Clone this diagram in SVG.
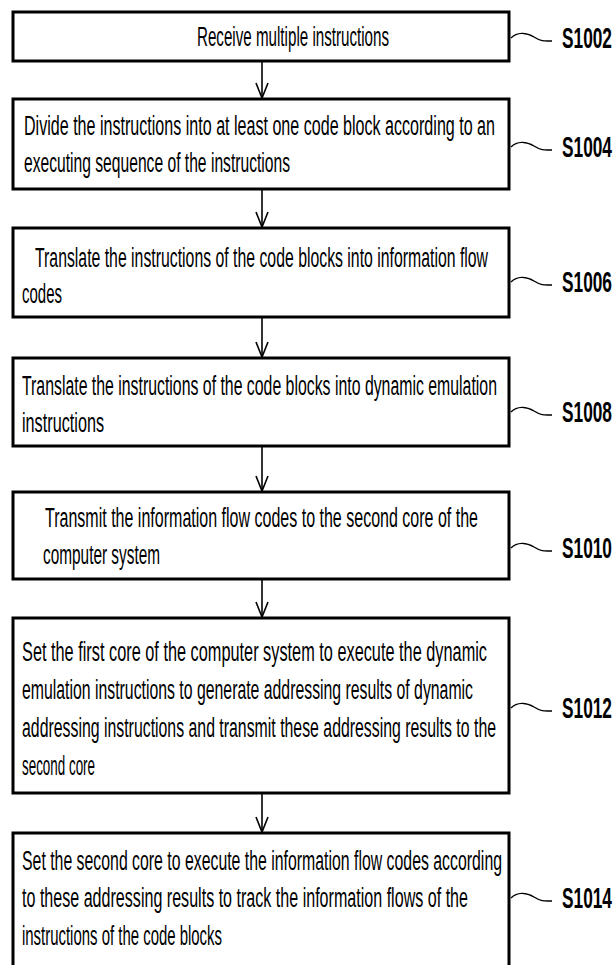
<svg xmlns="http://www.w3.org/2000/svg" width="613" height="965" viewBox="0 0 613 965">
  <style>
    .box { fill: #ffffff; stroke: #000000; stroke-width: 3; }
    .txt { font-family: "Liberation Sans", Arial, sans-serif; font-size: 28px; fill: #000000; }
    .lbl { font-family: "Liberation Sans", Arial, sans-serif; font-size: 29px; font-weight: bold; fill: #000000; }
    .lead { fill: none; stroke: #000000; stroke-width: 1.4; }
    .flow { fill: none; stroke: #000000; stroke-width: 1.6; }
  </style>
  <defs>
    <path id="tilde" class="lead" d="M0,0 C6,-6 15,-6 23,-1 S34,3 41,3"/>
    <path id="vhead" class="flow" d="M-6,-15 L0,0 L6,-15"/>
  </defs>

  <rect width="613" height="965" fill="#ffffff"/>

  <!-- connectors between steps -->
  <g id="connectors">
    <line class="flow" x1="262" y1="61" x2="262" y2="98"/>
    <use href="#vhead" x="262" y="98"/>
    <line class="flow" x1="262" y1="189" x2="262" y2="227"/>
    <use href="#vhead" x="262" y="227"/>
    <line class="flow" x1="262" y1="317" x2="262" y2="357"/>
    <use href="#vhead" x="262" y="357"/>
    <line class="flow" x1="262" y1="446" x2="262" y2="491"/>
    <use href="#vhead" x="262" y="491"/>
    <line class="flow" x1="262" y1="579" x2="262" y2="617"/>
    <use href="#vhead" x="262" y="617"/>
    <line class="flow" x1="262" y1="793" x2="262" y2="832"/>
    <use href="#vhead" x="262" y="832"/>
  </g>

  <!-- step texts use a narrow horizontal scale; textLength is in the scaled units -->
  <g id="s1002">
    <rect class="box" x="13" y="12" width="496" height="49"/>
    <text class="txt" transform="translate(197,46) scale(0.54,1)" textLength="355.6" lengthAdjust="spacingAndGlyphs">Receive multiple instructions</text>
    <use href="#tilde" x="511" y="38"/>
    <text class="lbl" transform="translate(562,48) scale(0.62,1)" textLength="80.6" lengthAdjust="spacingAndGlyphs">S1002</text>
  </g>

  <g id="s1004">
    <rect class="box" x="13" y="99" width="496" height="90"/>
    <text class="txt" transform="translate(24,135) scale(0.54,1)" textLength="872.2" lengthAdjust="spacingAndGlyphs">Divide the instructions into at least one code block according to an</text>
    <text class="txt" transform="translate(24,172) scale(0.54,1)" textLength="492.6" lengthAdjust="spacingAndGlyphs">executing sequence of the instructions</text>
    <use href="#tilde" x="511" y="147"/>
    <text class="lbl" transform="translate(562,157) scale(0.62,1)" textLength="80.6" lengthAdjust="spacingAndGlyphs">S1004</text>
  </g>

  <g id="s1006">
    <rect class="box" x="13" y="228" width="496" height="89"/>
    <text class="txt" transform="translate(35,267) scale(0.54,1)" textLength="838.9" lengthAdjust="spacingAndGlyphs">Translate the instructions of the code blocks into information flow</text>
    <text class="txt" transform="translate(22,303) scale(0.54,1)" textLength="74.1" lengthAdjust="spacingAndGlyphs">codes</text>
    <use href="#tilde" x="511" y="282"/>
    <text class="lbl" transform="translate(562,292) scale(0.62,1)" textLength="80.6" lengthAdjust="spacingAndGlyphs">S1006</text>
  </g>

  <g id="s1008">
    <rect class="box" x="13" y="358" width="496" height="88"/>
    <text class="txt" transform="translate(22,395) scale(0.54,1)" textLength="879.6" lengthAdjust="spacingAndGlyphs">Translate the instructions of the code blocks into dynamic emulation</text>
    <text class="txt" transform="translate(22,432) scale(0.54,1)" textLength="151.9" lengthAdjust="spacingAndGlyphs">instructions</text>
    <use href="#tilde" x="511" y="412"/>
    <text class="lbl" transform="translate(562,422) scale(0.62,1)" textLength="80.6" lengthAdjust="spacingAndGlyphs">S1008</text>
  </g>

  <g id="s1010">
    <rect class="box" x="13" y="492" width="496" height="87"/>
    <text class="txt" transform="translate(45,527) scale(0.54,1)" textLength="801.9" lengthAdjust="spacingAndGlyphs">Transmit the information flow codes to the second core of the</text>
    <text class="txt" transform="translate(43,564) scale(0.54,1)" textLength="216.7" lengthAdjust="spacingAndGlyphs">computer system</text>
    <use href="#tilde" x="511" y="548"/>
    <text class="lbl" transform="translate(562,558) scale(0.62,1)" textLength="80.6" lengthAdjust="spacingAndGlyphs">S1010</text>
  </g>

  <g id="s1012">
    <rect class="box" x="13" y="618" width="496" height="175"/>
    <text class="txt" transform="translate(22,661) scale(0.54,1)" textLength="861.1" lengthAdjust="spacingAndGlyphs">Set the first core of the computer system to execute the dynamic</text>
    <text class="txt" transform="translate(22,699) scale(0.54,1)" textLength="835.2" lengthAdjust="spacingAndGlyphs">emulation instructions to generate addressing results of dynamic</text>
    <text class="txt" transform="translate(22,737) scale(0.54,1)" textLength="877.8" lengthAdjust="spacingAndGlyphs">addressing instructions and transmit these addressing results to the</text>
    <text class="txt" transform="translate(22,775) scale(0.54,1)" textLength="135.2" lengthAdjust="spacingAndGlyphs">second core</text>
    <use href="#tilde" x="511" y="708"/>
    <text class="lbl" transform="translate(562,718) scale(0.62,1)" textLength="80.6" lengthAdjust="spacingAndGlyphs">S1012</text>
  </g>

  <g id="s1014">
    <rect class="box" x="13" y="833" width="496" height="150"/>
    <text class="txt" transform="translate(22,870) scale(0.54,1)" textLength="888.9" lengthAdjust="spacingAndGlyphs">Set the second core to execute the information flow codes according</text>
    <text class="txt" transform="translate(22,907) scale(0.54,1)" textLength="825.9" lengthAdjust="spacingAndGlyphs">to these addressing results to track the information flows of the</text>
    <text class="txt" transform="translate(22,945) scale(0.54,1)" textLength="370.4" lengthAdjust="spacingAndGlyphs">instructions of the code blocks</text>
    <use href="#tilde" x="511" y="898"/>
    <text class="lbl" transform="translate(562,908) scale(0.62,1)" textLength="80.6" lengthAdjust="spacingAndGlyphs">S1014</text>
  </g>
</svg>
